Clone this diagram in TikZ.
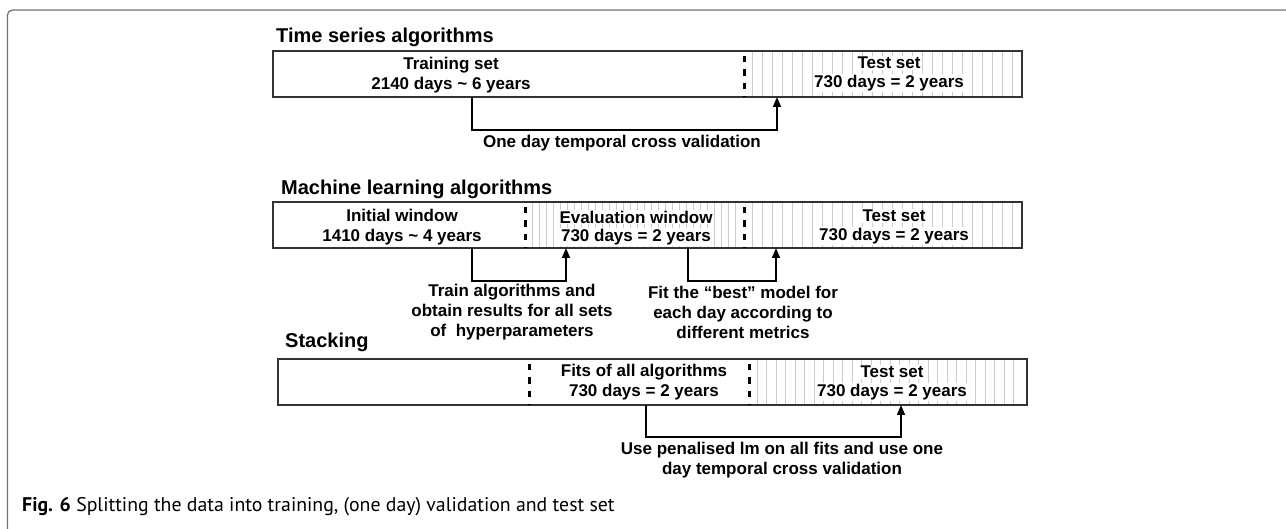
\documentclass[tikz,border=0pt]{standalone}
\usepackage{fontspec}
\setmainfont{Liberation Sans}
\newfontfamily\capfont{PT Sans}
\usetikzlibrary{arrows.meta}

\tikzset{
	lbl/.style={font=\bfseries\fontsize{17}{20}\selectfont, inner sep=1pt, align=center},
	onhatch/.style={lbl, fill=white},
	hdr/.style={font=\bfseries\fontsize{20}{24}\selectfont, anchor=west, inner sep=0pt},
	bar/.style={draw=black!80, line width=1.2pt},
	split/.style={line width=3pt, dash pattern=on 6.5pt off 7pt, dash phase=8.5pt},
	hatch/.style={draw=black!20, line width=0.8pt},
	conn/.style={line width=1.5pt, -{Triangle[length=10pt,width=8pt]}},
}

\begin{document}
\begin{tikzpicture}[x=1pt,y=-1pt]
	\useasboundingbox (0,0) rectangle (1286,529);
	\draw[rounded corners=5pt, draw=black!55, line width=1.3pt] (7.5,535) -- (7.5,10) -- (1290,10);

	% time series
	\node[hdr] (tstitle) at (276,37) {Time series algorithms};
	\foreach \x in {752,762,...,1016} \draw[hatch] (\x,51) -- (\x,97);
	\draw[bar] (273,51) rectangle (1022,97);
	\draw[split] (744,51) -- (744,97);
	\node[lbl] (tstrain) at (451,75) {Training set\\2140 days \textasciitilde{} 6 years};
	\node[onhatch] (tstesta) at (889,63) {Test set};
	\node[onhatch] (tstestb) at (889,83) {730 days = 2 years};
	\coordinate (tsout) at (472,97);
	\coordinate (tsin) at (777,97);
	\draw[conn] (tsout) -- ++(0,33) -| (tsin);
	\node[lbl] (tscv) at (622,143) {One day temporal cross validation};

	% machine learning
	\node[hdr] (mltitle) at (281,189) {Machine learning algorithms};
	\foreach \x in {532,539,...,738} \draw[hatch] (\x,202) -- (\x,248);
	\foreach \x in {752,762,...,1016} \draw[hatch] (\x,202) -- (\x,248);
	\draw[bar] (273,202) rectangle (1022,248);
	\draw[split] (525,202) -- (525,248);
	\draw[split] (744,202) -- (744,248);
	\node[lbl] (mlinit) at (402,227) {Initial window\\1410 days \textasciitilde{} 4 years};
	\node[onhatch] (mlevala) at (636,217) {Evaluation window};
	\node[onhatch] (mlevalb) at (636,237) {730 days = 2 years};
	\node[onhatch] (mltesta) at (894,216) {Test set};
	\node[onhatch] (mltestb) at (894,236) {730 days = 2 years};
	\coordinate (mlouta) at (472,248);
	\coordinate (mlina) at (566,248);
	\coordinate (mloutb) at (688,248);
	\coordinate (mlinb) at (776,248);
	\draw[conn] (mlouta) -- ++(0,33) -| (mlina);
	\draw[conn] (mloutb) -- ++(0,33) -| (mlinb);
	\node[lbl] (mltrain) at (512,312) {Train algorithms and\\obtain results for all sets\\of\ \ hyperparameters};
	\node[lbl] (mlbest) at (743,312) {Fit the “best” model for\\each day according to\\different metrics};

	% stacking
	\node[hdr] (sttitle) at (285,342) {Stacking};
	\foreach \x in {757,766.5,...,1022} \draw[hatch] (\x,359) -- (\x,405);
	\draw[bar] (278,359) rectangle (1027,405);
	\draw[split] (529,359) -- (529,405);
	\draw[split] (749,359) -- (749,405);
	\node[lbl] (stfits) at (644,382) {Fits of all algorithms\\730 days = 2 years};
	\node[onhatch] (sttesta) at (892,372) {Test set};
	\node[onhatch] (sttestb) at (892,392) {730 days = 2 years};
	\coordinate (stout) at (646,405);
	\coordinate (stin) at (901,405);
	\draw[conn] (stout) -- ++(0,32) -| (stin);
	\node[lbl] (stlm) at (782,460) {Use penalised lm on all fits and use one\\day temporal cross validation};

	\node[anchor=west, inner sep=0pt, font=\capfont\fontsize{19.8}{24}\selectfont] (caption) at (22,507) {\textbf{Fig. 6} Splitting the data into training, (one day) validation and test set};
\end{tikzpicture}
\end{document}
